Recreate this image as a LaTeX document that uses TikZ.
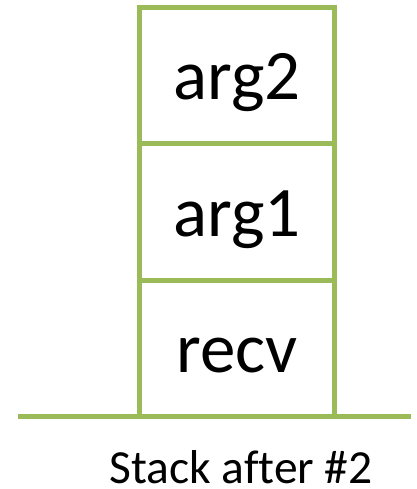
\documentclass[tikz,border=0pt]{standalone}
\usepackage{fontspec}
\setmainfont{Carlito}[Ligatures=NoCommon]
\definecolor{stackgreen}{RGB}{155,187,89}
\begin{document}
\begin{tikzpicture}[x=1pt,y=-1pt,
  cell/.style={draw=stackgreen, line width=5pt, minimum width=195pt, minimum height=136pt,
    inner sep=0pt, text height=48pt, text depth=0pt, font=\fontsize{71}{82}\selectfont},
  ground/.style={draw=stackgreen, line width=5pt},
  caption/.style={font=\fontsize{47.5}{56}\selectfont, anchor=base, inner sep=0pt, text depth=0pt}]
\useasboundingbox (0,0) rectangle (416,489);
\node[cell] (arg2) at (237,76) {arg2};
\node[cell] (arg1) at (237,212) {arg1};
\node[cell] (recv) at (237,348) {recv};
\coordinate (gl) at (18,416);
\coordinate (gr) at (411,416);
\draw[ground] (gl) -- (gr);
\node[caption] (cap) at (241,483) {Stack after \#2};
\end{tikzpicture}
\end{document}
